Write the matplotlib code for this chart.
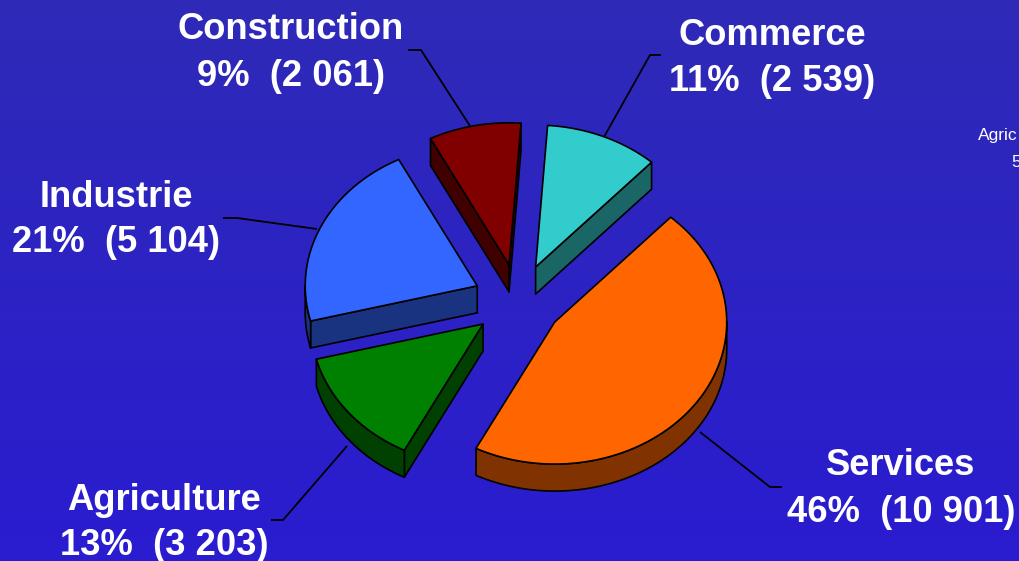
import numpy as np
import matplotlib
matplotlib.use("Agg")
import matplotlib.pyplot as plt
from matplotlib.patches import Polygon

# ---------------- data ----------------
categories = ["Commerce", "Services", "Agriculture", "Industrie", "Construction"]
values = [2539, 10901, 3203, 5104, 2061]
top_colors = ["#33CCCC", "#FF6600", "#008000", "#3366FF", "#800000"]
side_colors = ["#1A6666", "#803300", "#004000", "#1A3380", "#400000"]

# label layout (pixels): x centre, baseline of name, baseline of numbers
label_pos = {
    "Commerce": (772, 45, 91),
    "Services": (901, 475, 522),
    "Agriculture": (164, 510, 555),
    "Industrie": (116, 207, 252),
    "Construction": (291, 39, 86),
}
leaders = {
    "Commerce": [(661, 55), (650, 55), (604, 137)],
    "Services": [(700, 432), (770, 487), (782, 487)],
    "Agriculture": [(271, 520), (283, 520), (347, 446)],
    "Industrie": [(223, 218), (237, 218), (317, 229)],
    "Construction": [(408, 50), (421, 50), (470, 126)],
}

# ---------------- geometry ----------------
W, H = 1019, 561
CX, CY = 518, 301
RX, RY = 172, 142
DEPTH = 27
EXPLODE = 0.26
START = 86.0

fig = plt.figure(figsize=(W / 100, H / 100), dpi=100)
ax = fig.add_axes([0, 0, 1, 1])
ax.set_xlim(0, W)
ax.set_ylim(H, 0)
ax.axis("off")

# background gradient
top_bg = np.array([0x2F, 0x2A, 0xB7]) / 255
bot_bg = np.array([0x2A, 0x1C, 0xD0]) / 255
t = np.linspace(0, 1, 256)[:, None]
grad = top_bg[None, :] * (1 - t) + bot_bg[None, :] * t
ax.imshow(grad[:, None, :].repeat(2, axis=1), extent=[0, W, H, 0],
          aspect="auto", zorder=0, interpolation="bilinear")

total = float(sum(values))
angles = []
a = START
for v in values:
    span = 360.0 * v / total
    angles.append((a, a - span))
    a -= span


def pt(theta, cx, cy, dz=0.0):
    r = np.radians(theta)
    return (cx + RX * np.cos(r), cy - RY * np.sin(r) + dz)


def arc(a1, a2, cx, cy, dz=0.0, n=120):
    th = np.linspace(a1, a2, n)
    r = np.radians(th)
    return np.column_stack([cx + RX * np.cos(r), cy - RY * np.sin(r) + dz])


def draw_slice(i, z):
    a1, a2 = angles[i]
    m = np.radians((a1 + a2) / 2)
    cx = CX + EXPLODE * RX * np.cos(m)
    cy = CY - EXPLODE * RY * np.sin(m)
    kw = dict(edgecolor="black", linewidth=1.2, joinstyle="round")
    # radial faces
    for ang, visible in ((a1, np.cos(np.radians(a1)) < 0), (a2, np.cos(np.radians(a2)) > 0)):
        if visible:
            p = pt(ang, cx, cy)
            quad = [(cx, cy), p, (p[0], p[1] + DEPTH), (cx, cy + DEPTH)]
            ax.add_patch(Polygon(quad, closed=True, facecolor=side_colors[i], zorder=z, **kw))
    # outer band (front half only)
    hi = min(a1, 0.0)
    lo = max(a2, -180.0)
    if hi > lo:
        upper = arc(hi, lo, cx, cy)
        lower = arc(lo, hi, cx, cy, DEPTH)
        ax.add_patch(Polygon(np.vstack([upper, lower]), closed=True,
                             facecolor=side_colors[i], zorder=z, **kw))
    # top face
    top = np.vstack([[(cx, cy)], arc(a1, a2, cx, cy)])
    ax.add_patch(Polygon(top, closed=True, facecolor=top_colors[i], zorder=z + 0.5, **kw))


# draw back to front
order = sorted(range(len(values)),
               key=lambda k: -np.sin(np.radians((angles[k][0] + angles[k][1]) / 2)))
for z, i in enumerate(order):
    draw_slice(i, 2 + z)

# leader lines
for name, pts in leaders.items():
    xs, ys = zip(*pts)
    ax.plot(xs, ys, color="black", lw=1.3, zorder=10, solid_capstyle="butt")

# labels
for name, v in zip(categories, values):
    x, b1, b2 = label_pos[name]
    pct = f"{round(100 * v / total):d}%"
    num = f"{v:,}".replace(",", " ")
    ax.text(x, b1, name, ha="center", va="baseline", color="white",
            fontsize=26.2, fontweight="bold", family="Liberation Sans", zorder=11)
    ax.text(x, b2, f"{pct}  ({num})", ha="center", va="baseline", color="white",
            fontsize=26.2, fontweight="bold", family="Liberation Sans", zorder=11)

# partial stray label at the right edge (as visible in the source)
ax.text(978, 140, "Agric", ha="left", va="baseline", color="white",
        fontsize=12.5, family="Liberation Sans", zorder=11)
ax.text(1011, 167, "5", ha="left", va="baseline", color="white",
        fontsize=12.5, family="Liberation Sans", zorder=11)

fig.savefig("out.png", dpi=100, facecolor=fig.get_facecolor())
